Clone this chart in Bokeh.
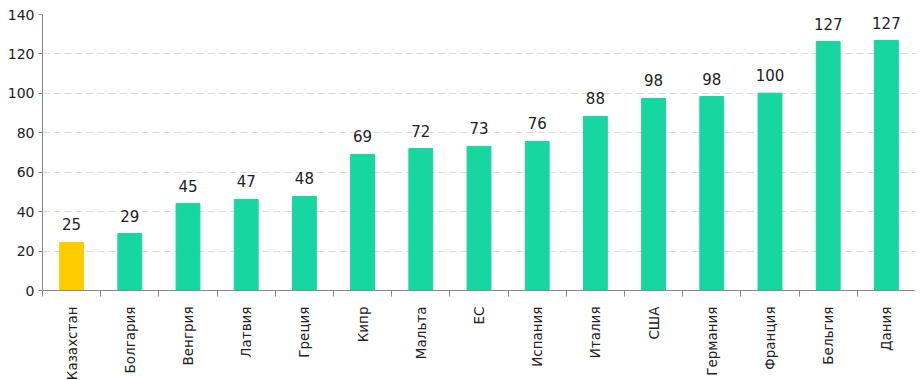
from math import pi
from bokeh.plotting import figure
from bokeh.models import ColumnDataSource, FixedTicker, Range1d, LabelSet
from bokeh.core.properties import value
from bokeh.embed import file_html
from bokeh.resources import INLINE

categories = ["Казахстан", "Болгария", "Венгрия", "Латвия", "Греция", "Кипр", "Мальта", "ЕС",
              "Испания", "Италия", "США", "Германия", "Франция", "Бельгия", "Дания"]
values = [24.4, 28.9, 44.1, 46.2, 47.7, 69.0, 72.0, 73.1, 75.6, 88.3, 97.4, 98.4, 100.1, 126.3, 126.8]
value_labels = ["25", "29", "45", "47", "48", "69", "72", "73", "76", "88", "98", "98", "100", "127", "127"]
highlight = "Казахстан"
y_ticks = [0, 20, 40, 60, 80, 100, 120, 140]

GREEN = "#17d6a0"
YELLOW = "#ffcc00"
FONT = "DejaVu Sans"
TXT = "#222222"
AX = "#8a8a8a"

n = len(categories)
xs = [i + 0.5 for i in range(n)]
colors = [YELLOW if c == highlight else GREEN for c in categories]
src = ColumnDataSource(dict(x=xs, top=values, color=colors, lab=value_labels))

p = figure(width=915, height=372, output_backend="svg", toolbar_location=None,
           x_range=Range1d(0, n), y_range=Range1d(0, 140),
           frame_width=873, frame_height=276,
           min_border_left=42, min_border_right=0, min_border_top=14, min_border_bottom=0)
p.outline_line_color = None
p.background_fill_color = "white"
p.border_fill_color = "white"

p.vbar(x="x", top="top", bottom=0, width=0.41, color="color", source=src)

p.add_layout(LabelSet(x="x", y="top", text="lab", source=src, text_align="center",
                      text_baseline="alphabetic", y_offset=12, text_font=value(FONT),
                      text_font_size="15px", text_color=TXT))

# y axis
yax = p.yaxis[0]
yax.ticker = FixedTicker(ticks=y_ticks)
yax.axis_line_color = AX
yax.major_tick_line_color = AX
yax.major_tick_out = 4
yax.major_tick_in = 0
yax.minor_tick_line_color = None
yax.major_label_text_font = FONT
yax.major_label_text_font_size = "14px"
yax.major_label_text_color = TXT
yax.major_label_standoff = 4

# x axis: labels at centers, ticks at boundaries
xax = p.xaxis[0]
xax.ticker = FixedTicker(ticks=xs, minor_ticks=list(range(n + 1)))
xax.major_label_overrides = {x: c for x, c in zip(xs, categories)}
xax.major_label_orientation = pi / 2
xax.axis_line_color = AX
xax.major_tick_line_color = None
xax.major_tick_out = 0
xax.major_tick_in = 0
xax.minor_tick_line_color = AX
xax.minor_tick_out = 6
xax.minor_tick_in = 0
xax.major_label_text_font = FONT
xax.major_label_text_font_size = "13.5px"
xax.major_label_text_color = TXT
xax.major_label_standoff = 10

p.xgrid.grid_line_color = None
p.ygrid.ticker = FixedTicker(ticks=y_ticks[1:])
p.ygrid.grid_line_color = "#d9d9d9"
p.ygrid.grid_line_dash = "7 4"
p.ygrid.grid_line_width = 1

open("out.html", "w").write(file_html(p, INLINE))
